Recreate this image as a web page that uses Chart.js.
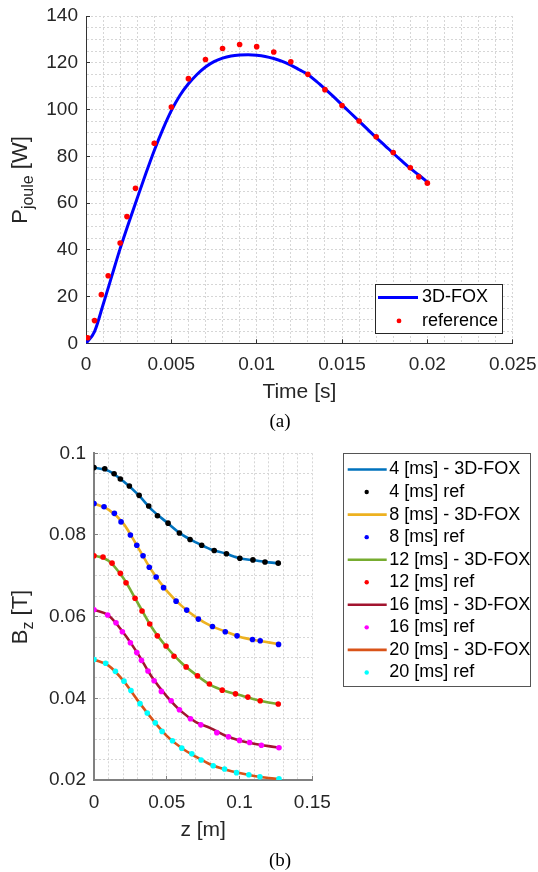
<!DOCTYPE html>
<html>
<head>
<meta charset="utf-8">
<script src="https://cdn.jsdelivr.net/npm/chart.js@4.4.1/dist/chart.umd.min.js"></script>
<style>
  html, body { margin: 0; padding: 0; background: #fff; }
  #wrap { position: relative; width: 538px; height: 872px; overflow: hidden; }
  canvas { position: absolute; left: 0; }
  #c1 { top: 0; }
  #c2 { top: 430px; }
  .cap { position: absolute; left: 230px; width: 100px; text-align: center;
         font: 19px "Liberation Serif", "Times New Roman", serif; line-height: 20px; color: #000; }
</style>
</head>
<body>
<div id="wrap">
  <canvas id="c1" width="538" height="410" style="width:538px;height:410px"></canvas>
  <canvas id="c2" width="538" height="442" style="width:538px;height:442px"></canvas>
  <div class="cap" style="top:411px">(a)</div>
  <div class="cap" style="top:850px">(b)</div>
</div>
<script>
// ---------- (a) Joule power ----------
const timeRef = [0.0001,0.0005,0.0009,0.0013,0.002,0.0024,0.0029,0.004,0.005,0.006,0.007,0.008,0.009,0.010,0.011,0.012,0.013,0.014,0.015,0.016,0.017,0.018,0.019,0.0195,0.020];
const pRef    = [2.4,9.7,20.8,28.9,42.9,54.2,66.3,85.6,101.1,113.2,121.4,126.1,127.8,126.9,124.6,120.4,115.1,108.5,101.7,95.1,88.3,81.6,75.1,71.2,68.5];
const timeFox = [0,0.0005,0.001,0.0015,0.002,0.0025,0.003,0.0035,0.004,0.0045,0.005,0.0055,0.006,0.0065,0.007,0.0075,0.008,0.0085,0.009,0.0095,0.010,0.0105,0.011,0.0115,0.012,0.0125,0.013,0.0135,0.014,0.0145,0.015,0.0155,0.016,0.0165,0.017,0.0175,0.018,0.0185,0.019,0.0195,0.020];
const pFox    = [0,5,16.5,28.5,40.5,51.5,62,72.5,82.5,91.5,99.5,106,111,115,118.2,120.5,122,122.9,123.3,123.4,123.2,122.7,121.8,120.6,119,117,115,112,108.8,105.5,102,98.5,95,91.5,88,84.7,81.3,78,74.8,72,69];
const topXMajor = [0,0.005,0.01,0.015,0.02,0.025];
const topXLabels = ['0','0.005','0.01','0.015','0.02','0.025'];
const topYMajor = [0,20,40,60,80,100,120,140];
const topYLabels = ['0','20','40','60','80','100','120','140'];
const topSeriesNames = ['3D-FOX','reference'];

// ---------- (b) Bz along z ----------
const zLine = [0,0.01,0.02,0.03,0.04,0.05,0.06,0.07,0.08,0.09,0.10,0.11,0.12,0.128];
const fox4  = [0.0965,0.0957,0.0932,0.0900,0.0861,0.0831,0.0802,0.0782,0.0765,0.0755,0.0743,0.0738,0.0733,0.0730];
const fox8  = [0.0877,0.0862,0.0829,0.0771,0.0711,0.0663,0.0627,0.0599,0.0578,0.0564,0.0551,0.0543,0.0537,0.0532];
const fox12 = [0.0750,0.0737,0.0695,0.0634,0.0572,0.0525,0.0487,0.0458,0.0433,0.0418,0.0408,0.0398,0.0390,0.0385];
const fox16 = [0.0617,0.0603,0.0562,0.0510,0.0451,0.0405,0.0368,0.0342,0.0327,0.0309,0.0297,0.0289,0.0283,0.0279];
const fox20 = [0.0495,0.0480,0.0444,0.0395,0.0349,0.0308,0.0279,0.0257,0.0238,0.0226,0.0217,0.0210,0.0205,0.0202];

const zRef4  = [0,0.0074,0.0138,0.0181,0.0243,0.031,0.0376,0.0436,0.0509,0.0587,0.066,0.074,0.0826,0.091,0.1002,0.1092,0.1175,0.1266];
const bRef4  = [0.0965,0.0962,0.0950,0.0937,0.0920,0.0897,0.0871,0.0847,0.0829,0.0805,0.0789,0.0775,0.0762,0.0754,0.0743,0.0739,0.0734,0.0731];
const zRef8  = [0,0.0069,0.0140,0.0186,0.025,0.0294,0.0337,0.038,0.0427,0.0478,0.0564,0.0637,0.0717,0.0814,0.0902,0.0983,0.1089,0.1142,0.1268];
const bRef8  = [0.0877,0.0869,0.0853,0.0832,0.0800,0.0775,0.0749,0.0721,0.0697,0.0671,0.0638,0.0616,0.0594,0.0576,0.0563,0.0553,0.0544,0.0541,0.0532];
const zRef12 = [0,0.0062,0.0124,0.0181,0.0220,0.0282,0.0330,0.0383,0.0435,0.0495,0.0550,0.0633,0.0711,0.0793,0.0881,0.0972,0.1057,0.1142,0.1266];
const bRef12 = [0.0749,0.0746,0.0731,0.0706,0.0683,0.0645,0.0614,0.0582,0.0553,0.0528,0.0503,0.0477,0.0455,0.0435,0.0420,0.0411,0.0403,0.0394,0.0386];
const zRef16 = [0,0.0094,0.0151,0.0195,0.0250,0.0294,0.0326,0.0371,0.0413,0.0463,0.0530,0.0587,0.0663,0.0734,0.0844,0.0924,0.1000,0.1069,0.1150,0.1271];
const bRef16 = [0.0617,0.0604,0.0585,0.0563,0.0536,0.0512,0.0493,0.0467,0.0443,0.0417,0.0394,0.0372,0.0350,0.0335,0.0316,0.0306,0.0297,0.0292,0.0285,0.0279];
const zRef20 = [0,0.0080,0.0147,0.0206,0.0254,0.0316,0.0366,0.0421,0.0468,0.0539,0.0603,0.0672,0.0736,0.0819,0.0897,0.0979,0.1064,0.1140,0.1271];
const bRef20 = [0.0495,0.0486,0.0466,0.0442,0.0419,0.0387,0.0364,0.0340,0.0319,0.0296,0.0278,0.0264,0.0249,0.0235,0.0227,0.0218,0.0213,0.0208,0.0203];
const botXMajor = [0,0.05,0.1,0.15];
const botXLabels = ['0','0.05','0.1','0.15'];
const botYMajor = [0.02,0.04,0.06,0.08,0.1];
const botYLabels = ['0.02','0.04','0.06','0.08','0.1'];
const timesMs = ['4','8','12','16','20'];

// ---------- helpers ----------
Chart.defaults.font.family = '"Liberation Sans", Arial, sans-serif';
Chart.defaults.color = '#262626';

function pts(xs, ys) { return xs.map((x, i) => ({x: x, y: ys[i]})); }
function majorIndex(v, majors) {
  for (let i = 0; i < majors.length; i++) if (Math.abs(v - majors[i]) < 1e-9) return i;
  return -1;
}
function labelCb(majors, labels) {
  return function (v) { const i = majorIndex(v, majors); return i >= 0 ? labels[i] : ''; };
}
function tickCol(majors, col) {
  return function (ctx) { return (ctx.tick && majorIndex(ctx.tick.value, majors) >= 0) ? col : 'rgba(0,0,0,0)'; };
}

const boxLegend = {
  id: 'boxLegend',
  afterDraw(chart, args, o) {
    const ctx = chart.ctx;
    ctx.save();
    ctx.fillStyle = '#fff';
    ctx.fillRect(o.x, o.y, o.w, o.h);
    ctx.strokeStyle = o.border; ctx.lineWidth = 1;
    ctx.strokeRect(Math.round(o.x) + 0.5, Math.round(o.y) + 0.5, Math.round(o.w), Math.round(o.h));
    ctx.font = o.font; ctx.textBaseline = 'middle'; ctx.textAlign = 'left';
    chart.data.datasets.forEach((ds, i) => {
      const cy = o.firstY + i * o.rowH;
      if (ds.showLine) {
        ctx.strokeStyle = ds.borderColor; ctx.lineWidth = ds.borderWidth;
        ctx.beginPath(); ctx.moveTo(o.lineX0, cy); ctx.lineTo(o.lineX1, cy); ctx.stroke();
      } else {
        ctx.fillStyle = ds.backgroundColor;
        ctx.beginPath(); ctx.arc(o.dotX, cy, o.dotR, 0, Math.PI * 2); ctx.fill();
      }
      ctx.fillStyle = '#000';
      ctx.fillText(ds.label, o.textX, cy);
    });
    ctx.restore();
  }
};

const yTitle = {
  id: 'yTitle',
  afterDraw(chart, args, o) {
    const ctx = chart.ctx;
    ctx.save();
    ctx.translate(o.x, o.y);
    ctx.rotate(-Math.PI / 2);
    ctx.fillStyle = '#262626';
    ctx.textBaseline = 'alphabetic'; ctx.textAlign = 'left';
    const fMain = o.size + 'px "Liberation Sans", Arial, sans-serif';
    const fSub = o.subSize + 'px "Liberation Sans", Arial, sans-serif';
    ctx.font = fMain; const w1 = ctx.measureText(o.main).width; const w3 = ctx.measureText(o.tail).width;
    ctx.font = fSub; const w2 = ctx.measureText(o.sub).width;
    let x = -(w1 + w2 + w3) / 2;
    ctx.font = fMain; ctx.fillText(o.main, x, 0); x += w1;
    ctx.font = fSub; ctx.fillText(o.sub, x, o.subShift); x += w2;
    ctx.font = fMain; ctx.fillText(o.tail, x, 0);
    ctx.restore();
  }
};

function axis(opts) {
  return {
    type: 'linear',
    min: opts.min, max: opts.max,
    afterFit: s => {
      opts.fit(s);
      s.paddingLeft = 0; s.paddingRight = 0; s.paddingTop = 0; s.paddingBottom = 0;
    },
    border: { display: true, color: opts.axisColor, width: opts.axisWidth, dash: [2, 2] },
    grid: { color: '#d6d6d6', lineWidth: 1, drawTicks: true, tickLength: -4,
            tickColor: tickCol(opts.majors, opts.axisColor), tickWidth: 1 },
    ticks: { stepSize: opts.step, autoSkip: false, maxRotation: 0, padding: opts.pad + 4,
             font: { size: 19 }, color: '#262626', callback: labelCb(opts.majors, opts.labels) },
    title: opts.title ? { display: true, text: opts.title, font: { size: 21 }, color: '#262626',
             padding: { top: 0, bottom: opts.titlePad } } : { display: false }
  };
}

// ---------- chart (a) ----------
new Chart(document.getElementById('c1'), {
  type: 'scatter',
  data: {
    datasets: [
      { label: topSeriesNames[0], data: pts(timeFox, pFox), showLine: true, borderColor: '#0000FF',
        backgroundColor: '#0000FF', borderWidth: 3, pointRadius: 0, cubicInterpolationMode: 'monotone', order: 1 },
      { label: topSeriesNames[1], data: pts(timeRef, pRef), showLine: false, backgroundColor: '#FF0000',
        borderColor: '#FF0000', pointRadius: 2.8, pointBorderWidth: 0, order: 0 }
    ]
  },
  options: {
    responsive: false, animation: false, devicePixelRatio: 1,
    layout: { padding: { left: 0, right: 25.3, top: 16, bottom: 0 } },
    plugins: {
      legend: { display: false }, tooltip: { enabled: false },
      boxLegend: { x: 375, y: 284, w: 127, h: 49, border: '#262626', font: '18px "Liberation Sans", Arial, sans-serif',
                   firstY: 297.5, rowH: 23.4, lineX0: 378, lineX1: 418, dotX: 399, dotR: 2.4, textX: 422 },
      yTitle: { x: 27, y: 180, size: 22, subSize: 16, subShift: 6, main: 'P', sub: 'joule', tail: ' [W]' }
    },
    scales: {
      x: axis({ min: 0, max: 0.025, step: 0.001, majors: topXMajor, labels: topXLabels, pad: 10,
                axisColor: '#333333', axisWidth: 1, title: 'Time [s]', titlePad: 5,
                fit: s => { s.height = 66.7; } }),
      y: axis({ min: 0, max: 140, step: 5, majors: topYMajor, labels: topYLabels, pad: 8,
                axisColor: '#333333', axisWidth: 1, fit: s => { s.width = 86; } })
    }
  },
  plugins: [boxLegend, yTitle]
});

// ---------- chart (b) ----------
const lineCols = ['#0072BD', '#EDB120', '#77AC30', '#A2142F', '#D95319'];
const dotCols = ['#000000', '#0000FF', '#FF0000', '#FF00FF', '#00FFFF'];
const foxSets = [fox4, fox8, fox12, fox16, fox20];
const refZ = [zRef4, zRef8, zRef12, zRef16, zRef20];
const refB = [bRef4, bRef8, bRef12, bRef16, bRef20];
const ds2 = [];
timesMs.forEach((t, i) => {
  ds2.push({ label: t + ' [ms] - 3D-FOX', data: pts(zLine, foxSets[i]), showLine: true, borderColor: lineCols[i],
             backgroundColor: lineCols[i], borderWidth: 2.6, pointRadius: 0, cubicInterpolationMode: 'monotone', order: 1 });
  ds2.push({ label: t + ' [ms] ref', data: pts(refZ[i], refB[i]), showLine: false, backgroundColor: dotCols[i],
             borderColor: dotCols[i], pointRadius: 2.8, pointBorderWidth: 0, order: 0 });
});

new Chart(document.getElementById('c2'), {
  type: 'scatter',
  data: { datasets: ds2 },
  options: {
    responsive: false, animation: false, devicePixelRatio: 1,
    layout: { padding: { left: 0, right: 225.7, top: 23.3, bottom: 0 } },
    plugins: {
      legend: { display: false }, tooltip: { enabled: false },
      boxLegend: { x: 343, y: 23.3, w: 187, h: 232.7, border: '#555555', font: '18px "Liberation Sans", Arial, sans-serif',
                   firstY: 39.5, rowH: 22.55, lineX0: 347.7, lineX1: 386.7, dotX: 366.7, dotR: 2.2, textX: 389.3 },
      yTitle: { x: 27, y: 187, size: 22, subSize: 16, subShift: 6, main: 'B', sub: 'z', tail: ' [T]' }
    },
    scales: {
      x: axis({ min: 0, max: 0.15, step: 0.01, majors: botXMajor, labels: botXLabels, pad: 11,
                axisColor: '#808080', axisWidth: 2, title: 'z [m]', titlePad: 29,
                fit: s => { s.height = 92; } }),
      y: axis({ min: 0.02, max: 0.1, step: 0.005, majors: botYMajor, labels: botYLabels, pad: 8,
                axisColor: '#808080', axisWidth: 2, fit: s => { s.width = 94; } })
    }
  },
  plugins: [boxLegend, yTitle]
});
</script>
</body>
</html>
